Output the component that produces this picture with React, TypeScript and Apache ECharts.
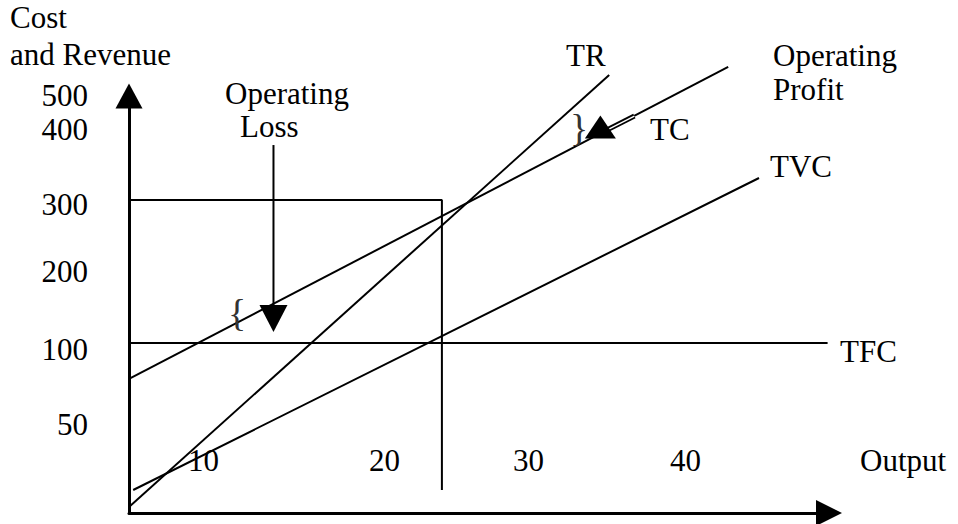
import React, { useEffect, useRef } from 'react';
import * as echarts from 'echarts';

// ---- texts ----
const yTickLabels = ['500', '400', '300', '200', '100', '50'];
const xTickLabels = ['10', '20', '30', '40'];
const yTitleLines = ['Cost', 'and Revenue'];
const xTitle = 'Output';
const curveNames = ['TR', 'TC', 'TVC', 'TFC'];
const lossLabel = ['Operating', 'Loss'];
const profitLabel = ['Operating', 'Profit'];

// ---- values (diagram units: x = output 0..50, y = cost/revenue 0..500) ----
const trPoints = [[0, 7.2], [34.3, 525.2]];
const tcPoints = [[0, 160.7], [42.8, 534.8]];
const tvcPoints = [[0.3, 27.6], [45.0, 401.7]];
const tfcPoints = [[0, 203.8], [49.9, 203.8]];
const boxPoints = [[0, 375.3], [22.35, 375.3], [22.35, 27.6]];
const lossPointer = [[10.32, 441.2], [10.32, 249.4]];
const lossHead = [[10.32, 233.2]];
const profitPointer = [[36.1, 476.0], [34.2, 459.8]];
const profitHead = [[33.67, 462.8]];

const FONT_FAMILY = '"Liberation Serif", "Times New Roman", serif';
const FS = 31;

function txt(text: string, x: number, baseline: number, align: string = 'left', size: number = FS, fill: string = '#000') {
  return {
    type: 'text',
    x,
    y: baseline - size * 0.34,
    z: 50,
    style: {
      text,
      font: `${size}px ${FONT_FAMILY}`,
      fill,
      textAlign: align,
      textVerticalAlign: 'middle',
      verticalAlign: 'middle',
    },
  };
}

function lineSeries(data: number[][], width = 2, color = '#000', z = 5) {
  return {
    type: 'line',
    data,
    showSymbol: false,
    symbol: 'none',
    clip: false,
    z,
    silent: true,
    lineStyle: { color, width, cap: 'butt', opacity: 1 },
  };
}

export default function App() {
  const ref = useRef<HTMLDivElement>(null);

  useEffect(() => {
    if (!ref.current) return;
    const chart = echarts.init(ref.current, undefined, { renderer: 'svg' });

    const yTickBaselines = [106, 140, 215, 282, 360, 435];
    const xTickLefts = [188, 369, 513, 670];

    const graphics: any[] = [];
    graphics.push(txt(yTitleLines[0], 10, 28));
    graphics.push(txt(yTitleLines[1], 10, 65));
    yTickLabels.forEach((l, i) => graphics.push(txt(l, 88, yTickBaselines[i], 'right')));
    xTickLabels.forEach((l, i) => graphics.push(txt(l, xTickLefts[i], 471)));
    graphics.push(txt(xTitle, 860, 471));
    graphics.push(txt(lossLabel[0], 225, 104));
    graphics.push(txt(lossLabel[1], 240, 137));
    graphics.push(txt(profitLabel[0], 773, 66));
    graphics.push(txt(profitLabel[1], 773, 100));
    graphics.push(txt(curveNames[0], 566, 66));
    graphics.push(txt(curveNames[1], 650, 140));
    graphics.push(txt(curveNames[2], 770, 177));
    graphics.push(txt(curveNames[3], 840, 362));
    graphics.push(txt('{', 228, 326, 'left', 38, '#333'));
    graphics.push(txt('}', 570, 141, 'left', 38, '#333'));

    chart.setOption({
      animation: false,
      backgroundColor: '#fff',
      grid: { left: 129, right: 129, top: 96, bottom: 11, containLabel: false, outerBoundsMode: 'none' },
      xAxis: {
        type: 'value',
        min: 0,
        max: 50,
        axisLine: {
          show: true,
          onZero: false,
          symbol: ['none', 'triangle'],
          symbolSize: [26, 26],
          lineStyle: { color: '#000', width: 3 },
        },
        axisTick: { show: false },
        axisLabel: { show: false },
        splitLine: { show: false },
      },
      yAxis: {
        type: 'value',
        min: 0,
        max: 500,
        axisLine: {
          show: true,
          onZero: false,
          symbol: ['none', 'triangle'],
          symbolSize: [27, 25],
          lineStyle: { color: '#000', width: 3 },
        },
        axisTick: { show: false },
        axisLabel: { show: false },
        splitLine: { show: false },
      },
      series: [
        lineSeries(trPoints),
        lineSeries(tcPoints),
        lineSeries(tvcPoints),
        lineSeries(tfcPoints),
        lineSeries(boxPoints),
        lineSeries(lossPointer),
        lineSeries(profitPointer, 5, '#000', 6),
        lineSeries(profitPointer, 1.4, '#fff', 7),
        {
          type: 'scatter',
          data: lossHead,
          symbol: 'triangle',
          symbolSize: [28, 27],
          symbolRotate: 180,
          itemStyle: { color: '#000', opacity: 1 },
          clip: false,
          z: 8,
          silent: true,
        },
        {
          type: 'scatter',
          data: profitHead,
          symbol: 'triangle',
          symbolSize: [31, 23],
          itemStyle: { color: '#000', opacity: 1 },
          clip: false,
          z: 8,
          silent: true,
        },
      ],
      graphic: graphics,
    });

    return () => chart.dispose();
  }, []);

  return (
    <div
      ref={ref}
      style={{ position: 'fixed', left: 0, top: 0, width: 958, height: 524, background: '#fff' }}
    />
  );
}
